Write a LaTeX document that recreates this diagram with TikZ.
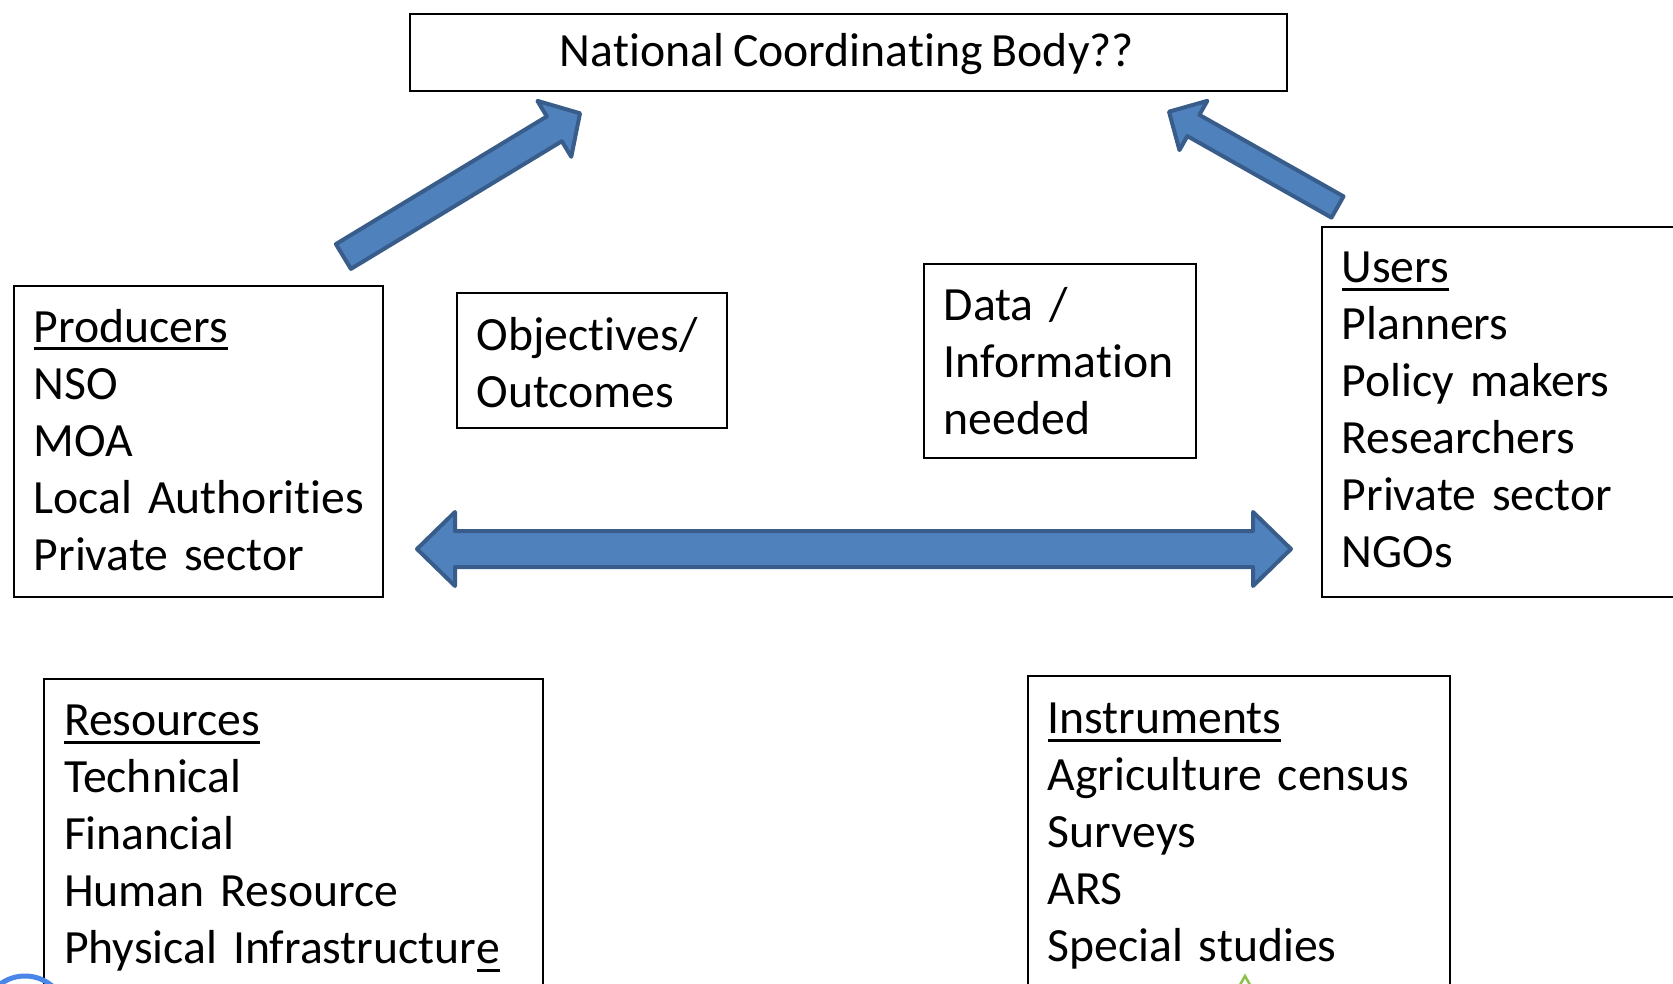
\documentclass[tikz,border=0pt]{standalone}
\usepackage{fontspec}
\setmainfont{Carlito}[Ligatures={NoCommon},WordSpace=0.85]
\usetikzlibrary{calc}
\definecolor{afill}{HTML}{4F81BD}
\definecolor{aline}{HTML}{385D8A}
\definecolor{logoblue}{HTML}{4A86E8}
\definecolor{logogreen}{HTML}{8BC34A}
\newcommand{\ulx}[1]{\setbox0=\hbox{#1}\rlap{\rule[-8pt]{\wd0}{3pt}}\box0}
\newcommand{\fl}{\rule{0pt}{40pt}}
% tail, tip, shaft half width, head half width, head length
\newcommand{\blockarr}[5]{%
  \coordinate (ba-h) at ($(#2)!#5!(#1)$);
  \draw[blockarrow] ($(#1)!#3!90:(#2)$) -- ($(ba-h)!#3!90:(#2)$) -- ($(ba-h)!#4!90:(#2)$) -- (#2)
     -- ($(ba-h)!#4!-90:(#2)$) -- ($(ba-h)!#3!-90:(#2)$) -- ($(#1)!#3!-90:(#2)$) -- cycle;}
\begin{document}
\begin{tikzpicture}[x=1pt,y=-1pt,
  box/.style={draw=black,line width=2pt,inner sep=0pt,anchor=north west},
  txt/.style={inner sep=0pt,anchor=north west,align=left,text width=480pt,
              font=\fontsize{47.7pt}{57pt}\selectfont},
  blockarrow/.style={fill=afill,draw=aline,line width=4pt,line join=round}]
\useasboundingbox (0,0) rectangle (1673,984);
\clip (0,0) rectangle (1673,984);

% boxes
\node[box,minimum width=877pt,minimum height=77pt] (title) at (408.6,12.8) {};
\node[inner sep=0pt,anchor=base,font=\fontsize{47.7pt}{57pt}\selectfont] (titletxt) at (847,67) {National Coordinating Body??};

\node[box,minimum width=369.6pt,minimum height=310.7pt] (prod) at (12.7,285) {};
\node[txt] (prodtxt) at (33.5,302) {\fl\ulx{Producers}\\NSO\\MOA\\Local Authorities\\Private sector};

\node[box,minimum width=270pt,minimum height=135pt] (obj) at (456,291.7) {};
\node[txt] (objtxt) at (476.5,310) {\fl Objectives/\\Outcomes};

\node[box,minimum width=272.3pt,minimum height=194pt] (data) at (922.7,262.7) {};
\node[txt] (datatxt) at (943.5,280.5) {\fl Data /\\Information\\needed};

\node[box,minimum width=400pt,minimum height=369.7pt] (users) at (1320.7,226) {};
\node[txt] (userstxt) at (1341.5,242.5) {\fl\ulx{Users}\\Planners\\Policy makers\\Researchers\\Private sector\\NGOs};

\node[box,minimum width=498.5pt,minimum height=400pt] (res) at (43,677.5) {};
\node[txt] (restxt) at (63.8,695.5) {\fl\ulx{Resources}\\Technical\\Financial\\Human Resource\\Physical Infrastructur\ulx{e}};

\node[box,minimum width=422.5pt,minimum height=400pt] (inst) at (1026.5,675.4) {};
\node[txt] (insttxt) at (1047.3,693.4) {\fl\ulx{Instruments}\\Agriculture census\\Surveys\\ARS\\Special studies};

% diagonal block arrows
\coordinate (la-tail) at (343.4,256.5);
\coordinate (la-tip) at (580,113.3);
\blockarr{la-tail}{la-tip}{14.5pt}{32.7pt}{30pt}
\coordinate (ra-tail) at (1337.5,207);
\coordinate (ra-tip) at (1169,111.7);
\blockarr{ra-tail}{ra-tip}{12.2pt}{28.3pt}{28pt}

% horizontal double arrow
\coordinate (dl) at (417,549);
\coordinate (dr) at (1291,549);
\draw[blockarrow] (dl) -- ($(dl)+(38,-37)$) -- ($(dl)+(38,-18)$) -- ($(dr)+(-38,-18)$) -- ($(dr)+(-38,-37)$) -- (dr)
  -- ($(dr)+(-38,37)$) -- ($(dr)+(-38,18)$) -- ($(dl)+(38,18)$) -- ($(dl)+(38,37)$) -- cycle;

% logo fragments at the bottom edge
\draw[logoblue,line width=5pt] (25,1018) circle (42);
\draw[logogreen,line width=2.5pt,fill=white] (1245,976) -- (1236,992) -- (1254,992) -- cycle;
\end{tikzpicture}
\end{document}
